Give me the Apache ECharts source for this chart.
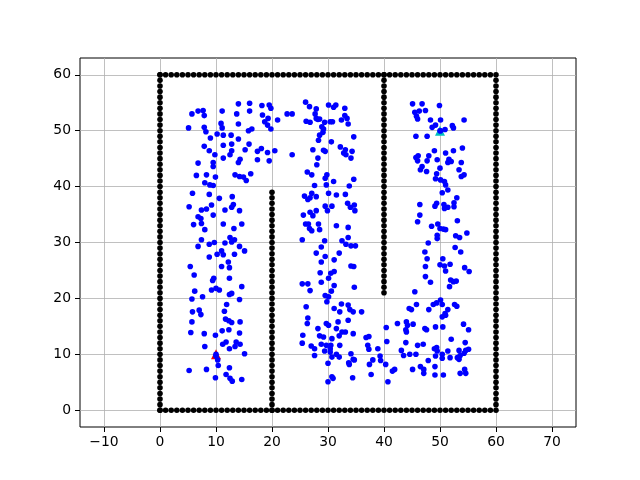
<!DOCTYPE html>
<html>
<head>
<meta charset="utf-8">
<script src="https://cdn.jsdelivr.net/npm/echarts@6/dist/echarts.min.js"></script>
<style>html,body{margin:0;padding:0;background:#fff}#c{width:640px;height:480px}</style>
</head>
<body>
<div id="c"></div>
<script>
// integer positions along the walls
const wallSteps = [0,1,2,3,4,5,6,7,8,9,10,11,12,13,14,15,16,17,18,19,20,21,22,23,24,25,26,27,28,29,30,31,32,33,34,35,36,37,38,39,40,41,42,43,44,45,46,47,48,49,50,51,52,53,54,55,56,57,58,59,60];
const xTicks = [-10,0,10,20,30,40,50,60,70];
const yTicks = [0,10,20,30,40,50,60];
const startPoint = [10, 10];
const goalPoint = [50, 50];
const samplePoints = [
[14.0,54.8],[16.0,54.9],[18.2,54.5],[19.5,54.6],[19.8,54.0],[5.7,53.0],[6.8,53.5],[7.7,53.6],[7.9,52.7],[11.1,53.5],[13.7,53.0],[16.0,53.5],[18.3,52.8],[19.3,52.2],[18.7,51.6],[21.0,51.9],[19.2,51.0],[5.1,50.5],[7.9,50.6],[8.2,49.8],[10.9,51.3],[11.1,50.5],[14.0,51.2],[16.4,50.3],[15.8,50.0],[19.8,50.3],[10.2,49.4],[11.3,49.2],[12.7,49.2],[9.0,48.7],[14.0,48.5],[7.9,47.2],[11.3,47.4],[12.8,47.6],[15.9,47.6],[15.2,46.6],[8.8,46.4],[12.8,46.4],[18.1,46.8],[19.2,46.1],[20.5,46.4],[17.4,46.3],[9.8,45.7],[12.5,45.7],[11.3,45.1],[14.3,44.9],[14.0,44.3],[17.4,44.8],[19.5,44.6],[6.8,44.2],[9.5,44.3],[9.5,43.6],[13.4,42.1],[14.2,41.8],[14.9,41.7],[16.2,42.3],[15.4,41.1],[6.5,42.0],[8.3,42.1],[9.9,41.7],[8.0,40.7],[8.9,40.3],[9.5,40.2],
[26.0,55.1],[26.7,54.3],[27.9,53.9],[30.1,54.6],[31.0,54.2],[31.4,54.6],[33.0,54.0],[22.7,53.0],[23.6,53.0],[27.7,53.0],[27.9,52.2],[28.5,52.1],[26.1,51.7],[26.8,51.5],[28.2,52.0],[29.4,51.5],[30.4,51.6],[30.8,51.6],[32.4,51.9],[33.0,52.7],[33.4,52.2],[33.6,51.2],[28.9,50.7],[29.2,50.3],[29.1,49.7],[28.5,49.2],[30.6,48.0],[34.6,48.9],[28.3,48.3],[27.3,46.6],[29.2,46.5],[29.5,46.3],[32.2,47.1],[33.1,46.6],[32.8,46.0],[33.2,45.7],[34.3,46.3],[23.6,45.7],[28.2,45.1],[34.1,45.1],[28.0,43.9],[26.3,42.6],[27.1,42.1],[29.8,42.1],[29.5,41.5],[31.0,40.9],[34.6,41.3],[27.6,40.2],[29.7,40.3],[33.8,40.1],
[45.1,54.8],[46.8,54.8],[49.9,54.5],[45.5,53.3],[46.3,53.5],[47.4,53.6],[45.8,52.6],[46.0,52.1],[48.3,51.9],[50.1,51.9],[54.3,51.9],[49.2,51.0],[48.6,50.6],[52.2,50.9],[52.4,50.5],[50.1,50.0],[50.9,50.2],[45.7,49.0],[47.7,49.0],[54.0,46.9],[49.0,46.4],[51.0,46.0],[52.4,46.4],[45.7,45.2],[46.1,45.5],[46.0,44.6],[48.0,45.5],[47.7,44.6],[49.5,44.8],[51.6,44.9],[52.0,44.5],[51.4,44.3],[53.8,44.3],[46.8,43.6],[46.5,43.0],[47.6,42.7],[50.0,43.3],[49.4,42.3],[53.4,43.0],[54.3,42.1],[53.8,41.8],[49.2,41.4],[50.1,41.2],[50.8,40.9],[51.0,40.3],[51.4,39.4],
[5.8,38.8],[8.8,38.6],[10.6,37.9],[12.9,38.2],[5.2,36.4],[7.4,35.8],[8.3,36.0],[9.2,36.7],[11.6,35.8],[12.8,36.3],[13.1,36.8],[14.2,35.7],[6.8,34.6],[7.3,34.3],[9.5,34.9],[6.0,33.2],[7.4,33.4],[8.0,32.3],[11.3,33.3],[13.2,32.5],[14.6,33.3],[12.5,30.9],[13.3,30.5],[12.8,30.1],[7.4,30.5],[8.8,29.7],[9.7,30.0],[11.6,29.9],[6.8,29.3],[14.2,29.3],[11.0,28.5],[10.2,27.9],[11.3,27.8],[13.3,27.9],[15.1,28.5],[8.8,27.4],[12.2,26.5],[5.4,25.7],[11.0,25.7],[12.4,25.5],[6.1,24.2],[9.6,23.6],[9.4,23.2],[12.4,23.6],[14.6,22.1],[6.2,21.3],[9.2,21.5],[10.0,21.8],[10.6,21.5],
[25.8,38.3],[26.4,37.7],[26.8,38.0],[27.1,38.8],[27.9,38.2],[30.1,38.8],[31.5,38.5],[33.1,38.6],[29.5,36.5],[29.9,35.7],[30.7,36.5],[33.5,37.0],[34.0,36.3],[34.7,36.7],[34.8,35.7],[25.6,34.9],[26.8,35.4],[27.3,34.8],[27.9,35.7],[26.0,33.3],[26.5,33.3],[28.3,33.3],[26.7,32.5],[27.1,32.1],[28.5,32.3],[31.5,33.0],[33.6,32.7],[25.4,30.5],[29.4,30.3],[33.6,30.9],[32.5,30.3],[33.2,29.7],[34.1,29.4],[34.9,29.4],[28.8,29.2],[27.9,28.1],[29.5,27.5],[32.0,28.1],[28.8,26.5],[31.1,26.9],[34.1,25.8],[34.6,25.7],[28.6,24.6],[30.5,24.5],[31.1,24.8],[30.1,23.6],[25.4,22.6],[26.4,22.6],[28.8,22.9],[31.1,22.3],[34.7,22.0],
[50.4,38.9],[53.0,38.0],[46.4,36.8],[49.1,36.5],[49.4,37.0],[50.7,36.8],[50.8,36.1],[51.4,36.3],[52.5,37.1],[52.5,36.4],[46.4,34.9],[46.0,33.7],[53.1,33.9],[48.5,32.9],[49.6,33.3],[50.0,32.5],[50.6,32.4],[51.0,32.3],[49.5,31.3],[49.5,30.7],[52.8,31.2],[53.5,30.9],[54.8,31.7],[47.9,29.9],[52.7,29.1],[53.7,28.3],[47.3,28.3],[47.7,27.1],[50.5,27.1],[50.0,26.0],[50.8,25.8],[51.8,26.1],[51.0,24.9],[47.4,25.7],[54.4,25.5],[55.2,24.8],[47.4,23.9],[48.3,22.9],[51.9,23.3],[52.4,23.0],[52.9,23.1],[51.7,22.1],[45.5,21.2],
[12.4,20.7],[12.8,20.9],[5.7,19.9],[7.6,20.3],[14.2,19.8],[11.9,18.9],[11.5,17.7],[5.8,17.6],[7.0,17.9],[7.3,17.1],[11.7,16.3],[12.3,16.0],[12.8,15.7],[14.3,15.8],[5.7,15.8],[5.5,13.9],[7.9,13.7],[9.9,13.4],[11.1,14.2],[12.3,14.4],[14.2,13.8],[11.8,12.2],[11.2,11.8],[13.6,12.2],[14.3,11.8],[13.4,11.4],[12.4,11.0],[8.0,11.4],[15.1,10.1],[10.0,9.7],[10.3,9.0],[10.4,8.0],[5.2,7.1],[8.3,7.3],[12.4,7.6],[11.8,6.4],[12.5,5.7],[12.9,5.2],[14.6,5.5],[9.9,5.8],
[26.8,21.4],[30.6,21.3],[29.5,20.5],[30.1,20.3],[29.8,19.4],[26.1,18.5],[31.1,18.2],[32.4,19.0],[32.1,17.6],[33.6,18.8],[33.9,18.0],[34.5,17.6],[36.0,17.6],[26.4,16.5],[26.3,15.5],[29.7,15.5],[30.1,15.2],[31.8,15.8],[33.6,16.1],[28.2,14.6],[31.5,14.6],[32.5,14.0],[33.1,14.0],[34.5,13.7],[25.5,13.4],[28.5,13.3],[29.2,13.1],[30.7,12.8],[32.0,13.3],[36.8,13.0],[37.3,13.2],[25.4,12.0],[27.0,11.5],[27.6,11.0],[28.8,11.8],[29.7,11.6],[30.5,11.6],[32.1,11.6],[29.4,10.6],[30.4,11.0],[30.4,10.4],[37.1,11.6],[37.3,10.9],[27.6,9.8],[30.7,9.5],[31.5,10.0],[32.0,9.5],[34.1,10.1],[34.5,9.1],[33.7,8.5],[34.7,9.0],[33.8,8.2],[38.0,9.0],[37.4,8.2],[30.0,8.4],[30.7,6.0],[30.9,5.7],[30.0,5.1],[34.4,5.8],[37.7,6.4],
[44.5,18.2],[44.9,18.0],[45.8,18.9],[48.0,18.0],[48.8,18.9],[49.4,19.2],[50.1,19.7],[50.4,18.9],[52.6,18.9],[53.0,18.6],[50.9,17.3],[51.4,18.0],[50.4,16.7],[51.0,17.0],[42.4,15.5],[44.0,15.8],[44.2,15.2],[45.2,15.4],[43.9,14.4],[44.0,14.0],[40.4,14.8],[47.3,14.6],[47.6,14.4],[49.2,14.9],[50.5,14.9],[54.2,15.4],[55.1,14.4],[40.5,12.3],[43.9,12.1],[46.0,11.6],[47.0,11.8],[52.0,12.7],[54.5,12.1],[38.9,11.0],[43.1,10.7],[43.5,9.8],[44.6,10.0],[45.7,10.0],[49.0,11.0],[49.4,11.2],[49.5,10.6],[49.2,9.7],[50.4,10.0],[51.4,10.6],[53.4,10.7],[54.6,10.7],[55.1,10.9],[50.4,9.3],[51.8,9.4],[53.1,9.4],[53.6,9.8],[54.3,10.2],[53.4,9.1],[39.3,9.7],[39.4,8.9],[40.3,8.2],[47.9,8.9],[41.5,7.0],[41.9,7.3],[45.1,7.3],[46.5,7.8],[47.1,7.3],[47.1,6.6],[49.1,7.8],[49.1,6.3],[50.6,6.3],[53.6,6.6],[54.4,7.3],[54.6,6.6],[40.7,5.1],
[10.0,10.0],[50.0,50.0]
];

// obstacle points from wall definitions
const obstacles = [];
wallSteps.slice(0,60).forEach(v => obstacles.push([v, 0]));
wallSteps.slice(0,60).forEach(v => obstacles.push([60, v]));
wallSteps.forEach(v => obstacles.push([v, 60]));
wallSteps.forEach(v => obstacles.push([0, v]));
wallSteps.slice(0,40).forEach(v => obstacles.push([20, v]));
wallSteps.slice(21).forEach(v => obstacles.push([40, v]));

const fmt = v => (v < 0 ? '\u2212' + Math.abs(v) : String(v));
const font = {fontFamily: 'DejaVu Sans', fontSize: 13.9, color: '#000'};

const chart = echarts.init(document.getElementById('c'), null, {renderer: 'canvas'});
chart.setOption({
  animation: false,
  backgroundColor: '#fff',
  grid: {left: 80, right: 64, top: 58, bottom: 53, show: true, borderColor: '#000', borderWidth: 1, backgroundColor: 'transparent'},
  xAxis: {
    type: 'value', min: -14.2857, max: 74.2857,
    axisLine: {show: false, onZero: false},
    axisTick: {show: true, inside: false, length: 5, lineStyle: {color: '#000', width: 1}, customValues: xTicks},
    axisLabel: Object.assign({margin: 8, formatter: fmt, customValues: xTicks}, font),
    splitLine: {show: true, lineStyle: {color: '#b0b0b0', width: 0.8}}
  },
  yAxis: {
    type: 'value', min: -3, max: 63,
    axisLine: {show: false, onZero: false},
    axisTick: {show: true, inside: false, length: 5, lineStyle: {color: '#000', width: 1}, customValues: yTicks},
    axisLabel: Object.assign({margin: 9, formatter: fmt, customValues: yTicks}, font),
    splitLine: {show: true, lineStyle: {color: '#b0b0b0', width: 0.8}}
  },
  series: [
    {type: 'scatter', data: obstacles, symbol: 'circle', symbolSize: 5.6, itemStyle: {color: '#000', opacity: 1}, z: 2},
    {type: 'scatter', data: [startPoint], symbol: 'triangle', symbolSize: 10, itemStyle: {color: '#ff0000', opacity: 1}, z: 3},
    {type: 'scatter', data: [startPoint], symbol: 'triangle', symbolSize: 6, itemStyle: {color: '#008000', opacity: 1}, z: 3},
    {type: 'scatter', data: [goalPoint], symbol: 'triangle', symbolSize: 10, itemStyle: {color: '#00bfbf', opacity: 1}, z: 3},
    {type: 'scatter', data: samplePoints, symbol: 'circle', symbolSize: 5.6, itemStyle: {color: '#0000ff', opacity: 1}, z: 4}
  ]
});
</script>
</body>
</html>
